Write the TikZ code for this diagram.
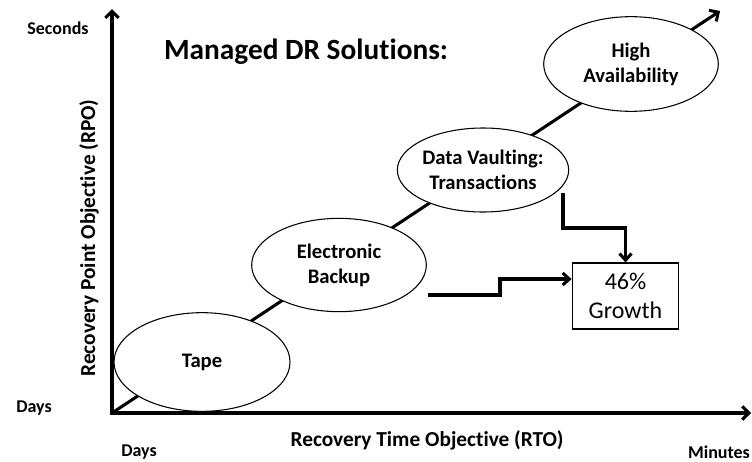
\documentclass[tikz,border=0pt]{standalone}
\usepackage{fontspec}
\setmainfont{Carlito}[Ligatures=NoCommon]
\usetikzlibrary{shapes.geometric,arrows.meta,positioning}

\tikzset{
  stage/.style={ellipse, draw, line width=0.8pt, fill=white, inner sep=0pt, align=center,
    font=\bfseries\fontsize{15.5}{18.75}\selectfont},
  axis/.style={line width=2.3pt, -{Straight Barb[length=5pt,width=10pt]}},
  flow/.style={line width=2.3pt, -{Straight Barb[length=5pt,width=9pt]}},
  tick/.style={font=\bfseries\fontsize{13.5}{16}\selectfont},
  axislabel/.style={font=\bfseries\fontsize{16}{19}\selectfont},
}

\begin{document}
\begin{tikzpicture}[x=0.75pt,y=-0.75pt]
  \useasboundingbox (0,0) rectangle (752,461);

  % Axes and the trend line
  \coordinate (o) at (112,413);
  \coordinate (ytip) at (112,9);
  \coordinate (xtip) at (751,413);
  \coordinate (trend) at (720,11);
  \draw[axis, {Straight Barb[length=5pt,width=10pt]}-{Straight Barb[length=5pt,width=10pt]}, line join=miter]
    (ytip) -- (o) -- (xtip);
  \draw[axis] (o) -- (trend);

  % Define nodes
  \node[stage, minimum width=132pt, minimum height=74pt] (tape) at (202,362) {Tape};
  \node[stage, minimum width=131pt, minimum height=70pt] (eb)   at (339,265) {Electronic\\Backup};
  \node[stage, minimum width=128pt, minimum height=63pt] (dv)   at (483,170) {Data Vaulting:\\Transactions};
  \node[stage, minimum width=131pt, minimum height=71pt] (ha)   at (631,64)  {High\\Availability};
  \node[draw, line width=0.8pt, minimum width=80pt, minimum height=49.5pt, align=center,
        font=\fontsize{18}{21.75}\selectfont] (growth) at (625.5,296) {46\%\\Growth};

  \node[font=\bfseries\fontsize{22}{26}\selectfont] (title) at (306,52) {Managed DR Solutions:};
  \node[tick] (secs)  at (58,28)   {Seconds};
  \node[tick] (ydays) at (34,408)  {Days};
  \node[tick] (xdays) at (139,452) {Days};
  \node[tick] (mins)  at (719,452) {Minutes};
  \node[axislabel] (rto) at (427,440) {Recovery Time Objective (RTO)};
  \node[axislabel, rotate=90] (rpo) at (89,238) {Recovery Point Objective (RPO)};

  % Connect the nodes
  \coordinate (ebout) at (428,295);
  \coordinate (dvout) at (563,193);
  \draw[flow] (ebout) -- ++(72,0) |- ([yshift=12.75pt]growth.west);
  \draw[flow] (dvout) -- ++(0,35) -| (growth.north);
\end{tikzpicture}
\end{document}
